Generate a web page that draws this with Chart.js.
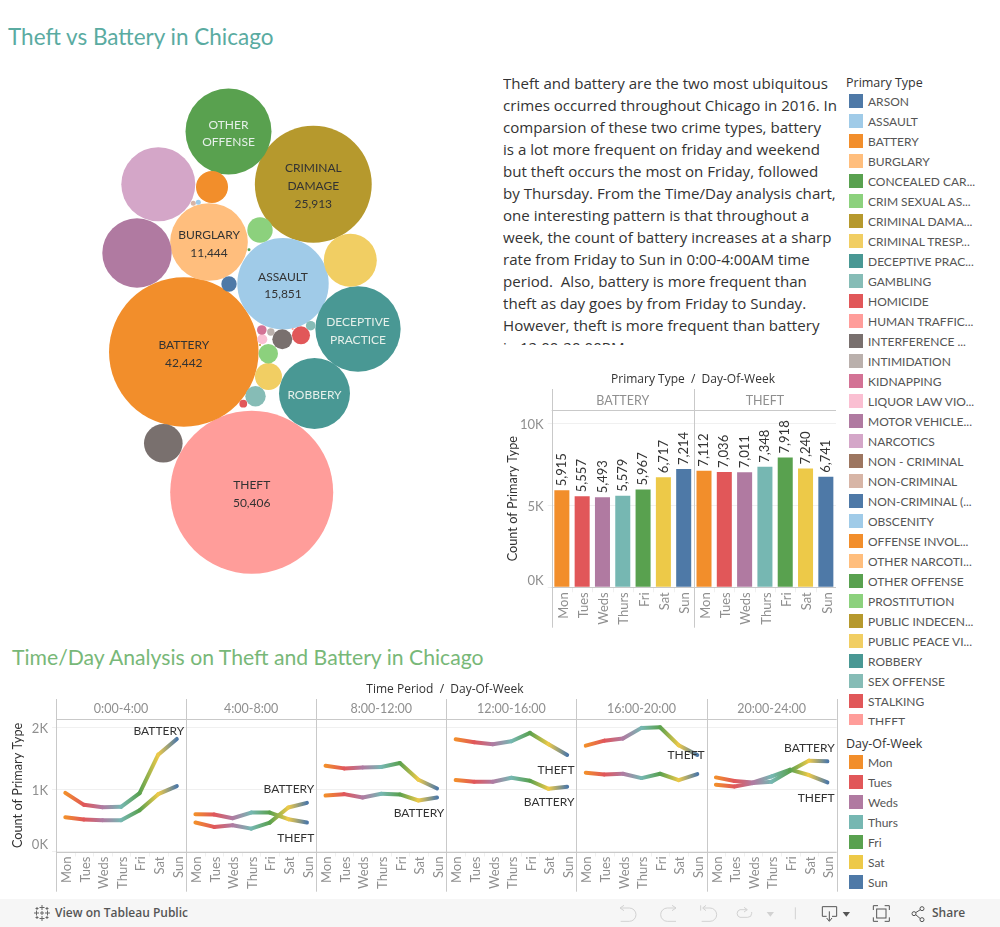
<!DOCTYPE html>
<html>
<head>
<meta charset="utf-8">
<title>Theft vs Battery in Chicago</title>
<script src="https://cdn.jsdelivr.net/npm/chart.js@4"></script>
<style>
  html, body { margin: 0; padding: 0; background: #fff; width: 1000px; height: 927px; overflow: hidden; }
  body { position: relative; font-family: Lato, "Open Sans", sans-serif; color: #333; }
  canvas { position: absolute; }
  .title { position: absolute; line-height: 28px; white-space: nowrap; }
  #title1 { left: 8px; top: 23px; font-size: 22.5px; color: #5aaba1; }
  #title2 { left: 12px; top: 643px; font-size: 21.2px; color: #78b878; }
  #story { position: absolute; left: 503px; top: 72px; width: 340px; height: 273px; overflow: hidden;
           font-family: "Open Sans", sans-serif; font-size: 15.1px; line-height: 22px; white-space: nowrap; color: #333; }
  .legend-title { position: absolute; left: 846px; font-family: "Open Sans", sans-serif; font-size: 12.5px; color: #333; white-space: nowrap; }
  .legend { position: absolute; left: 849px; width: 151px; overflow: hidden; }
  .legend div { position: relative; height: 20px; font-size: 12px; line-height: 15px; color: #555; white-space: nowrap; padding-left: 19px; }
  .legend i { position: absolute; left: 0; top: 0; width: 14px; height: 14px; }
  #toolbar { position: absolute; left: 0; top: 899px; width: 1000px; height: 28px; background: #f6f6f6; }
  #toolbar span { position: absolute; top: 6px; font-family: "Open Sans", sans-serif; font-size: 12px; line-height: 16px; font-weight: 600; color: #555; white-space: nowrap; }
  #toolbar svg { position: absolute; }
</style>
</head>
<body>
<div class="title" id="title1">Theft vs Battery in Chicago</div>
<div class="title" id="title2">Time/Day Analysis on Theft and Battery in Chicago</div>

<div id="story">Theft and battery are the two most ubiquitous<br>crimes occurred throughout Chicago in 2016. In<br>comparsion of these two crime types, battery<br>is a lot more frequent on friday and weekend<br>but theft occurs the most on Friday, followed<br>by Thursday. From the Time/Day analysis chart,<br>one interesting pattern is that throughout a<br>week, the count of battery increases at a sharp<br>rate from Friday to Sun in 0:00-4:00AM time<br>period.&nbsp; Also, battery is more frequent than<br>theft as day goes by from Friday to Sunday.<br>However, theft is more frequent than battery<br>in 12:00-20:00PM</div>

<canvas id="bubbleChart" width="330" height="500" style="left:90px;top:80px"></canvas>
<canvas id="barChart" width="345" height="270" style="left:500px;top:365px"></canvas>
<canvas id="lineChart" width="845" height="225" style="left:0;top:675px"></canvas>

<div class="legend-title" style="top:74px">Primary Type</div>
<div class="legend" id="typeLegend" style="top:94px;height:631px"></div>
<div class="legend-title" style="top:735px">Day-Of-Week</div>
<div class="legend" id="dayLegend" style="top:755px;height:140px"></div>

<div id="toolbar">
  <svg style="left:33px;top:5px" width="18" height="18" viewBox="0 0 18 18" stroke="#666" stroke-width="1" fill="none">
    <path d="M9 1v5M6.5 3.500h5M9 12v5M6.500 14.500h5M1 9h5M3.500 6.500v5M12 9h5M14.500 6.500v5M9 7v4M7 9h4M4 3v3M2.500 4.500h3M14 3v3M12.500 4.500h3M4 12v3M2.500 13.500h3M14 12v3M12.500 13.500h3"/>
  </svg>
  <span style="left:55px">View on Tableau Public</span>
  <svg style="left:600px;top:-1px" width="400" height="29" viewBox="0 0 1200 87" fill="none" stroke-width="3">
    <g stroke="#d2d2d2">
      <path d="M62 30H88A20 20 0 0 1 88 70H62M72 22L60 30L72 38"/>
      <path d="M228 30H202A20 20 0 0 0 202 70H228M216 22L228 30L216 38"/>
      <path d="M302 22V38M310 30H330A20 20 0 0 1 330 70H305M318 22L308 30L318 38"/>
      <path d="M440 35H420A12 12 0 0 0 420 58H443A12 12 0 0 0 455 46V42M432 28L442 35L432 42"/>
      <path d="M586 28V64"/>
    </g>
    <path d="M500 42H522L511 56Z" fill="#d2d2d2"/>
    <g stroke="#555">
      <path d="M680 55H667V26H710V55H696M688 40V68M680 60L688 70L696 60"/>
      <path d="M820 36V23H834M854 23H868V36M868 58V70H854M834 70H820V58"/>
      <rect x="830" y="33" width="28" height="27"/>
      <circle cx="942" cy="47" r="6"/><circle cx="966" cy="32" r="6"/><circle cx="966" cy="65" r="6"/>
      <path d="M947 44L961 35M947 50L961 62"/>
    </g>
    <path d="M728 42H750L739 56Z" fill="#555"/>
  </svg>
  <span style="left:932px">Share</span>
</div>

<script>
// legend labels, as the dashboard shows them
const primaryTypes = ['ARSON', 'ASSAULT', 'BATTERY', 'BURGLARY', 'CONCEALED CAR...', 'CRIM SEXUAL AS...', 'CRIMINAL DAMA...',
  'CRIMINAL TRESP...', 'DECEPTIVE PRAC...', 'GAMBLING', 'HOMICIDE', 'HUMAN TRAFFIC...', 'INTERFERENCE ...', 'INTIMIDATION',
  'KIDNAPPING', 'LIQUOR LAW VIO...', 'MOTOR VEHICLE...', 'NARCOTICS', 'NON - CRIMINAL', 'NON-CRIMINAL', 'NON-CRIMINAL (...',
  'OBSCENITY', 'OFFENSE INVOL...', 'OTHER NARCOTI...', 'OTHER OFFENSE', 'PROSTITUTION', 'PUBLIC INDECEN...', 'PUBLIC PEACE VI...',
  'ROBBERY', 'SEX OFFENSE', 'STALKING', 'THEFT', 'WEAPONS VIOLA...'];
const typePalette = ['#4e79a7', '#a0cbe8', '#f28e2b', '#ffbe7d', '#59a14f', '#8cd17d', '#b6992d', '#f1ce63', '#499894', '#86bcb6',
  '#e15759', '#ff9d9a', '#79706e', '#bab0ac', '#d37295', '#fabfd2', '#b07aa1', '#d4a6c8', '#9d7660', '#d7b5a6'];

const days = ['Mon', 'Tues', 'Weds', 'Thurs', 'Fri', 'Sat', 'Sun'];
const dayColors = ['#f28e2b', '#e15759', '#b07aa1', '#76b7b2', '#59a14f', '#edc948', '#4e79a7'];

const bubbleTypes = ['THEFT', 'BATTERY', 'CRIMINAL DAMA...', 'ASSAULT', 'OTHER OFFENSE', 'DECEPTIVE PRAC...', 'BURGLARY', 'NARCOTICS',
  'ROBBERY', 'MOTOR VEHICLE...', 'CRIMINAL TRESP...', 'WEAPONS VIOLA...', 'OFFENSE INVOL...', 'PUBLIC PEACE VI...', 'PROSTITUTION',
  'SEX OFFENSE', 'CRIM SEXUAL AS...', 'INTERFERENCE ...', 'HOMICIDE', 'ARSON', 'LIQUOR LAW VIO...', 'KIDNAPPING', 'GAMBLING',
  'STALKING', 'INTIMIDATION', 'NON-CRIMINAL', 'OBSCENITY', 'CONCEALED CAR...', 'PUBLIC INDECEN...', 'HUMAN TRAFFIC...'];
const bubbleCounts = [50406, 42442, 25913, 15851, 14030, 13800, 11444, 10390, 9560, 9140, 5330, 2830, 1943, 1383, 1224,
  790, 714, 759, 615, 450, 190, 175, 175, 115, 104, 48, 48, 17, 8, 8];
// layout of the pack, in pack units around its centre
const packX = [-3.3, -71.2, 58.3, 28, -26.5, 103, -46, -96.7, 59.5, -118, 95.3, -91.7, -43, 13.5, 5,
  0.5, 13.3, 27.3, 46, -26, 7.3, 6.8, 55.7, -11.7, 15.8, -61.700, -56.700, -6, 5, 37.7];
const packY = [-162.3, -22, 145.7, 46.3, 198.5, 1, 88, 145.700, -63.5, 77, 69.700, -113.3, 143, -46.5, 100,
  -66.3, -23.7, -9.3, -5.3, 46, -9.3, 0, 4.3, -73.7, -2, 126.7, 127.7, 80.3, -15, 1];
const bubbleLabels = { 'THEFT': ['THEFT', '50,406'], 'BATTERY': ['BATTERY', '42,442'], 'CRIMINAL DAMA...': ['CRIMINAL', 'DAMAGE', '25,913'],
  'ASSAULT': ['ASSAULT', '15,851'], 'BURGLARY': ['BURGLARY', '11,444'], 'OTHER OFFENSE': ['OTHER', 'OFFENSE'],
  'DECEPTIVE PRAC...': ['DECEPTIVE', 'PRACTICE'], 'ROBBERY': ['ROBBERY'] };
const paleLabelTypes = ['OTHER OFFENSE', 'DECEPTIVE PRAC...', 'ROBBERY'];

// totals per weekday
const barPanels = ['BATTERY', 'THEFT'];
const batteryByDay = [5915, 5557, 5493, 5579, 5967, 6717, 7214];
const theftByDay = [7112, 7036, 7011, 7348, 7918, 7240, 6741];

// counts per time period, seven days each
const timePeriods = ['0:00-4:00', '4:00-8:00', '8:00-12:00', '12:00-16:00', '16:00-20:00', '20:00-24:00'];
const batteryByPeriod = [
  943, 750, 712, 718, 938, 1556, 1809,
  465, 395, 422, 368, 465, 707, 782,
  900, 922, 868, 927, 917, 820, 868,
  1148, 1121, 1121, 1186, 1137, 1008, 1040,
  1266, 1239, 1250, 1180, 1250, 1148, 1245,
  1073, 1046, 1099, 1121, 1298, 1460, 1449];
const theftByPeriod = [
  551, 513, 503, 503, 664, 922, 1051,
  599, 594, 535, 626, 626, 519, 465,
  1379, 1336, 1352, 1358, 1422, 1153, 1013,
  1804, 1755, 1723, 1772, 1906, 1723, 1551,
  1702, 1782, 1815, 1987, 1997, 1707, 1551,
  1191, 1132, 1110, 1207, 1315, 1229, 1110];
// end-of-line marks: text, period, height on the count axis
const lineMarkText = ['BATTERY', 'BATTERY', 'THEFT', 'BATTERY', 'THEFT', 'BATTERY', 'THEFT', 'BATTERY', 'THEFT'];
const lineMarkPeriod = [0, 1, 1, 2, 3, 3, 4, 5, 5];
const lineMarkLevel = [1929, 1005, 222, 623, 1302, 799, 1548, 1669, 865];

const FONT = 'Lato, "Open Sans", sans-serif';
const BUBBLE_SCALE = 0.363; // px of radius per sqrt(count)
const typeColor = name => typePalette[primaryTypes.indexOf(name) % typePalette.length];

Chart.defaults.font.family = FONT;
Chart.defaults.animation = false;
Chart.defaults.responsive = false;
Chart.defaults.plugins.legend.display = false;
Chart.defaults.plugins.tooltip.enabled = false;

function buildLegend(id, labels, colors) {
  const box = document.getElementById(id);
  labels.forEach((label, i) => {
    const row = document.createElement('div');
    const swatch = document.createElement('i');
    swatch.style.background = colors[i];
    row.appendChild(swatch);
    row.appendChild(document.createTextNode(label));
    box.appendChild(row);
  });
}
buildLegend('typeLegend', primaryTypes, primaryTypes.map(typeColor));
buildLegend('dayLegend', days, dayColors);

// names written on the big bubbles
const bubbleTextPlugin = {
  id: 'bubbleText',
  afterDatasetsDraw(chart) {
    const ctx = chart.ctx;
    const points = chart.getDatasetMeta(0).data;
    ctx.save();
    ctx.font = '12px ' + FONT;
    ctx.textAlign = 'center';
    ctx.textBaseline = 'middle';
    bubbleTypes.forEach((type, i) => {
      const lines = bubbleLabels[type];
      if (!lines) return;
      ctx.fillStyle = paleLabelTypes.includes(type) ? '#e6f0ea' : '#333';
      lines.forEach((line, n) => {
        ctx.fillText(line, points[i].x, points[i].y + 2 + (n - (lines.length - 1) / 2) * 17.7);
      });
    });
    ctx.restore();
  }
};

// tableau style pane frame round a chart: header row, pane dividers, axis line
function paneFramePlugin(title, titleX, panes, headerY, frameBottom, closeRight) {
  return {
    id: 'paneFrame',
    beforeDatasetsDraw(chart) {
      const { ctx, chartArea: a } = chart;
      const paneWidth = (a.right - a.left) / panes.length;
      const step = chart.scales.x.getPixelForValue(1) - chart.scales.x.getPixelForValue(0);
      ctx.save();
      ctx.strokeStyle = '#f0f0f0';
      ctx.lineWidth = 1;
      ctx.beginPath();
      for (let i = 1; i < panes.length * 7; i++) {
        const x = Math.round(a.left + i * step) + 0.5;
        ctx.moveTo(x, a.bottom);
        ctx.lineTo(x, a.bottom + 5);
      }
      ctx.stroke();
      ctx.strokeStyle = '#c9c9c9';
      ctx.beginPath();
      const lastLine = closeRight ? panes.length : panes.length - 1;
      for (let i = 0; i <= lastLine; i++) {
        const x = Math.round(a.left + i * paneWidth) + 0.5;
        ctx.moveTo(x, 24);
        ctx.lineTo(x, frameBottom);
      }
      const topY = Math.round(a.top) + 0.5;
      const bottomY = Math.round(a.bottom) + 0.5;
      ctx.moveTo(a.left, topY);
      ctx.lineTo(a.right, topY);
      ctx.moveTo(a.left, bottomY);
      ctx.lineTo(a.right, bottomY);
      ctx.stroke();
      ctx.textAlign = 'center';
      ctx.textBaseline = 'middle';
      ctx.font = '12.5px ' + FONT;
      ctx.fillStyle = '#8f8f8f';
      panes.forEach((name, i) => {
        ctx.fillText(name, a.left + (i + 0.5) * paneWidth, headerY);
      });
      ctx.font = '12px "Open Sans", sans-serif';
      ctx.fillStyle = '#333';
      ctx.fillText(title, titleX, 15);
      ctx.restore();
    }
  };
}

// rotated totals above each bar
const barValuePlugin = {
  id: 'barValues',
  afterDatasetsDraw(chart) {
    const ctx = chart.ctx;
    const values = chart.data.datasets[0].data;
    ctx.save();
    ctx.font = '13px ' + FONT;
    ctx.fillStyle = '#333';
    ctx.textAlign = 'left';
    ctx.textBaseline = 'middle';
    chart.getDatasetMeta(0).data.forEach((bar, i) => {
      ctx.save();
      ctx.translate(bar.x, bar.y - 4);
      ctx.rotate(-Math.PI / 2);
      ctx.fillText(values[i].toLocaleString('en-US'), 0, 0);
      ctx.restore();
    });
    ctx.restore();
  }
};

const lineMarkPlugin = {
  id: 'lineMarks',
  afterDatasetsDraw(chart) {
    const { ctx, chartArea: a, scales } = chart;
    const paneWidth = (a.right - a.left) / timePeriods.length;
    ctx.save();
    ctx.font = '12px ' + FONT;
    ctx.fillStyle = '#333';
    ctx.textAlign = 'right';
    ctx.textBaseline = 'middle';
    lineMarkText.forEach((text, i) => {
      ctx.fillText(text, a.left + (lineMarkPeriod[i] + 1) * paneWidth - 2, scales.y.getPixelForValue(lineMarkLevel[i]));
    });
    ctx.restore();
  }
};

const kLabel = value => (value === 0 ? ['0K', ''] : value / 1000 + 'K');

function paneScales(yMax, yTicks, yWidth, xHeight, titlePad) {
  return {
    x: {
      offset: true,
      grid: { display: false, drawTicks: false },
      border: { display: false },
      ticks: { color: '#8f8f8f', font: { size: 13 }, minRotation: 90, maxRotation: 90, autoSkip: false, padding: 5, labelOffset: 1.5 },
      afterFit(scale) {
        scale.height = xHeight;
        scale.paddingLeft = 0;
        scale.paddingRight = 0;
      }
    },
    y: {
      min: 0,
      max: yMax,
      grid: { color: '#f0f0f0', tickLength: 4, tickColor: '#f0f0f0' },
      border: { display: false },
      afterBuildTicks(scale) { scale.ticks = yTicks.map(value => ({ value })); },
      ticks: { color: '#8f8f8f', font: { size: 13 }, padding: 4, labelOffset: 1.5, callback: kLabel },
      title: { display: true, text: 'Count of Primary Type', color: '#333', font: { size: 12.7 }, padding: { top: titlePad, bottom: 0 } },
      afterFit(scale) { scale.width = yWidth; }
    }
  };
}

new Chart(document.getElementById('bubbleChart'), {
  type: 'bubble',
  data: {
    datasets: [{
      data: bubbleCounts.map((count, i) => ({ x: packX[i], y: packY[i], r: BUBBLE_SCALE * Math.sqrt(count) })),
      backgroundColor: bubbleTypes.map(typeColor),
      borderWidth: 0,
      hoverBorderWidth: 0,
      clip: false
    }]
  },
  options: {
    layout: { autoPadding: false },
    scales: {
      x: { type: 'linear', display: false, min: -165, max: 165 },
      y: { type: 'linear', display: false, min: -250, max: 250 }
    }
  },
  plugins: [bubbleTextPlugin]
});

new Chart(document.getElementById('barChart'), {
  type: 'bar',
  data: {
    labels: days.concat(days),
    datasets: [{
      data: batteryByDay.concat(theftByDay),
      backgroundColor: dayColors.concat(dayColors),
      barPercentage: 0.74,
      categoryPercentage: 1
    }]
  },
  options: {
    layout: { padding: { top: 45, right: 9 } },
    scales: paneScales(10811, [0, 5000, 10000], 51.7, 47.7, 5)
  },
  plugins: [paneFramePlugin('Primary Type  /  Day-Of-Week', 193, barPanels, 35.7, 262.7, false), barValuePlugin]
});

// each stretch blends from one weekday colour into the next; nothing is drawn across a pane boundary
function segmentGradient(ctx) {
  const from = ctx.p0DataIndex % 7;
  if (from === 6) return 'transparent';
  const gradient = ctx.chart.ctx.createLinearGradient(ctx.p0.x, 0, ctx.p1.x, 0);
  gradient.addColorStop(0, dayColors[from]);
  gradient.addColorStop(1, dayColors[from + 1]);
  return gradient;
}

const lineLabels = timePeriods.flatMap(() => days);
const lineSeries = (label, data) => ({
  label,
  data,
  borderWidth: 4,
  borderColor: dayColors[0],
  borderCapStyle: 'round',
  borderJoinStyle: 'round',
  tension: 0,
  pointRadius: 0,
  segment: { borderColor: segmentGradient }
});

new Chart(document.getElementById('lineChart'), {
  type: 'line',
  data: {
    labels: lineLabels,
    datasets: [lineSeries('BATTERY', batteryByPeriod), lineSeries('THEFT', theftByPeriod)]
  },
  options: {
    layout: { padding: { top: 44.3, right: 8.3 } },
    scales: paneScales(2125, [0, 1000, 2000], 56, 48.5, 10)
  },
  plugins: [paneFramePlugin('Time Period  /  Day-Of-Week', 445, timePeriods, 34.3, 216.7, true), lineMarkPlugin]
});
</script>
</body>
</html>
